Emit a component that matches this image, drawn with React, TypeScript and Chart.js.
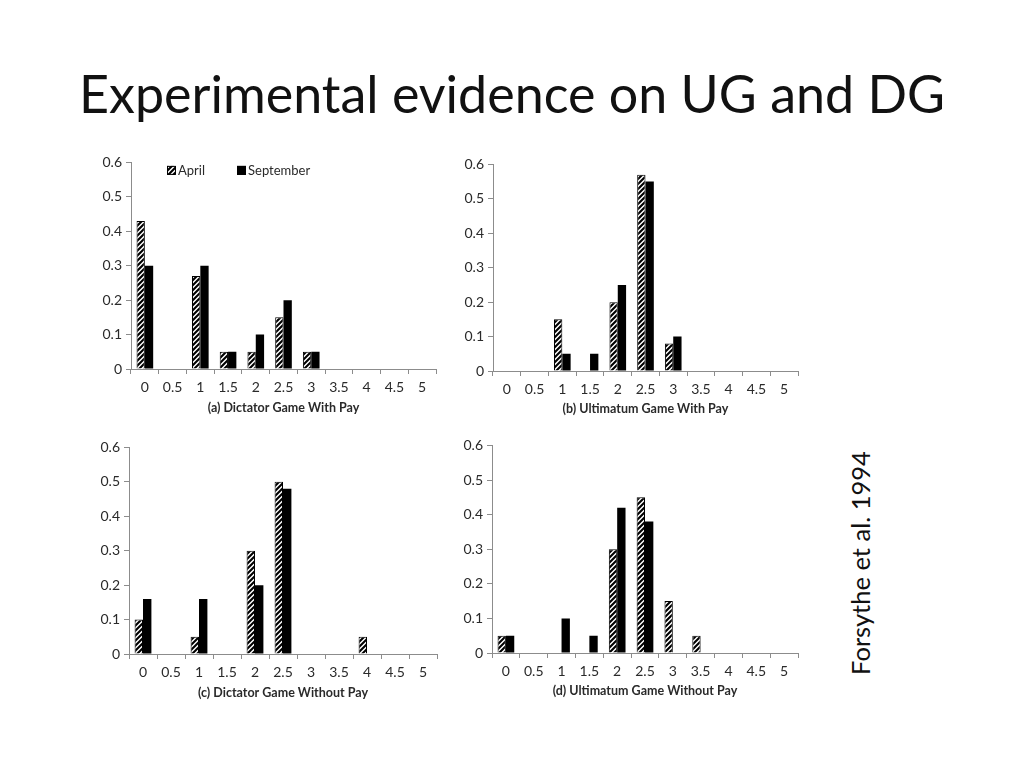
import React, { useEffect, useRef } from "react";
import { Chart, registerables } from "chart.js";

Chart.register(...registerables);

// ---------- data ----------
const categories = ["0", "0.5", "1", "1.5", "2", "2.5", "3", "3.5", "4", "4.5", "5"];
const seriesNames = ["April", "September"];
const yMin = 0;
const yMax = 0.6;
const yStep = 0.1;

const dgPayApril = [0.43, 0, 0.27, 0.05, 0.05, 0.15, 0.05, 0, 0, 0, 0];
const dgPaySeptember = [0.3, 0, 0.3, 0.05, 0.1, 0.2, 0.05, 0, 0, 0, 0];
const ugPayApril = [0, 0, 0.15, 0, 0.2, 0.57, 0.08, 0, 0, 0, 0];
const ugPaySeptember = [0, 0, 0.05, 0.05, 0.25, 0.55, 0.1, 0, 0, 0, 0];
const dgNoPayApril = [0.1, 0, 0.05, 0, 0.3, 0.5, 0, 0, 0.05, 0, 0];
const dgNoPaySeptember = [0.16, 0, 0.16, 0, 0.2, 0.48, 0, 0, 0, 0, 0];
const ugNoPayApril = [0.05, 0, 0, 0, 0.3, 0.45, 0.15, 0.05, 0, 0, 0];
const ugNoPaySeptember = [0.05, 0, 0.1, 0.05, 0.42, 0.38, 0, 0, 0, 0, 0];

const panelTitles = [
  "(a) Dictator Game With Pay",
  "(b) Ultimatum Game With Pay",
  "(c) Dictator Game Without Pay",
  "(d) Ultimatum Game Without Pay",
];

const pageTitle = "Experimental evidence on UG and DG";
const sideNote = "Forsythe et al. 1994";

// ---------- helpers ----------
const FONT = "Lato, 'Open Sans', sans-serif";
const TEXT = "#2a2a2a";
const AXIS = "#8c8c8c";

function makeHatch(): CanvasPattern | string {
  const s = 5;
  const c = document.createElement("canvas");
  c.width = s;
  c.height = s;
  const g = c.getContext("2d");
  if (!g) return "#888";
  g.fillStyle = "#ffffff";
  g.fillRect(0, 0, s, s);
  g.strokeStyle = "#000000";
  g.lineWidth = 2.1;
  g.beginPath();
  g.moveTo(-1, s + 1);
  g.lineTo(s + 1, -1);
  g.moveTo(-1, 1);
  g.lineTo(1, -1);
  g.moveTo(s - 1, s + 1);
  g.lineTo(s + 1, s - 1);
  g.stroke();
  const p = g.createPattern(c, "repeat");
  return p || "#888";
}

function legendPlugin(hatch: CanvasPattern | string) {
  return {
    id: "insideLegend",
    afterDraw(chart: any) {
      const { ctx, chartArea } = chart;
      const items = [
        { x: 36, fill: hatch, text: chart.data.datasets[0].label },
        { x: 106, fill: "#000", text: chart.data.datasets[1].label },
      ];
      const cy = chartArea.top + 8;
      ctx.save();
      ctx.font = `13px ${FONT}`;
      ctx.textBaseline = "middle";
      ctx.textAlign = "left";
      items.forEach((it) => {
        const bx = chartArea.left + it.x;
        ctx.fillStyle = it.fill as any;
        ctx.fillRect(bx, cy - 4.5, 9, 9);
        ctx.strokeStyle = "#000";
        ctx.lineWidth = 1;
        ctx.strokeRect(bx + 0.5, cy - 4, 8, 8);
        ctx.fillStyle = TEXT;
        ctx.fillText(it.text, bx + 11, cy + 0.5);
      });
      ctx.restore();
    },
  };
}

type PanelProps = {
  areaLeft: number;
  areaRight: number;
  areaTop: number;
  areaBottom: number;
  titleY: number;
  april: number[];
  september: number[];
  title: string;
  legend?: boolean;
};

const Y_AXIS_W = 43;
const PAD_TOP = 10;
const PAD_RIGHT = 4;

function Panel(p: PanelProps) {
  const ref = useRef<HTMLCanvasElement>(null);
  const left = p.areaLeft - Y_AXIS_W;
  const top = p.areaTop - PAD_TOP;
  const width = p.areaRight + PAD_RIGHT - left;
  const bottom = p.titleY + 12;
  const height = bottom - top;
  const xAxisH = bottom - p.areaBottom;

  useEffect(() => {
    if (!ref.current) return;
    const hatch = makeHatch();
    const chart = new Chart(ref.current, {
      type: "bar",
      data: {
        labels: categories,
        datasets: [
          {
            label: seriesNames[0],
            data: p.april,
            backgroundColor: hatch as any,
            borderColor: "#000",
            borderWidth: (c: any) => (c.raw ? 1 : 0),
          },
          {
            label: seriesNames[1],
            data: p.september,
            backgroundColor: "#000",
            borderColor: "#000",
            borderWidth: 0,
          },
        ],
      },
      options: {
        animation: false,
        responsive: false,
        maintainAspectRatio: false,
        layout: { padding: { left: 0, right: PAD_RIGHT, top: PAD_TOP, bottom: 0 } },
        datasets: { bar: { categoryPercentage: 0.6, barPercentage: 1 } },
        plugins: { legend: { display: false }, tooltip: { enabled: false } },
        scales: {
          x: {
            offset: true,
            grid: {
              display: true,
              drawOnChartArea: false,
              offset: true,
              tickLength: 5,
              color: AXIS,
            },
            border: { color: AXIS, width: 1 },
            ticks: {
              color: TEXT,
              font: { family: FONT, size: 14 },
              padding: 5,
              maxRotation: 0,
              autoSkip: false,
            },
            title: {
              display: true,
              text: p.title,
              color: TEXT,
              font: { family: FONT, size: 12.5, weight: "bold" },
              padding: { top: 0, bottom: 5 },
            },
            afterFit: (s: any) => {
              s.height = xAxisH;
            },
          },
          y: {
            min: yMin,
            max: yMax,
            grid: { display: true, drawOnChartArea: false, tickLength: 5, color: AXIS },
            border: { color: AXIS, width: 1 },
            ticks: {
              stepSize: yStep,
              color: TEXT,
              font: { family: FONT, size: 14 },
              padding: 4,
            },
            afterFit: (s: any) => {
              s.width = Y_AXIS_W;
            },
          },
        },
      } as any,
      plugins: p.legend ? [legendPlugin(hatch) as any] : [],
    });
    return () => chart.destroy();
  }, []);

  return (
    <canvas
      ref={ref}
      width={width}
      height={height}
      style={{ position: "absolute", left, top, width, height }}
    />
  );
}

export default function App() {
  useEffect(() => {
    document.body.style.margin = "0";
  }, []);
  return (
    <div
      style={{
        position: "absolute",
        left: 0,
        top: 0,
        width: 1024,
        height: 768,
        background: "#fff",
        overflow: "hidden",
        fontFamily: FONT,
      }}
    >
      <div
        style={{
          position: "absolute",
          left: 0,
          width: 1024,
          top: 63,
          textAlign: "center",
          fontSize: 52,
          lineHeight: "60px",
          color: "#111",
          whiteSpace: "nowrap",
        }}
      >
        {pageTitle}
      </div>
      <div
        style={{
          position: "absolute",
          left: 860,
          top: 563,
          transform: "translate(-50%, -50%) rotate(-90deg)",
          fontSize: 25.5,
          lineHeight: "30px",
          color: "#111",
          whiteSpace: "nowrap",
        }}
      >
        {sideNote}
      </div>
      <Panel
        areaLeft={131}
        areaRight={436}
        areaTop={160}
        areaBottom={369}
        titleY={408}
        april={dgPayApril}
        september={dgPaySeptember}
        title={panelTitles[0]}
        legend
      />
      <Panel
        areaLeft={493}
        areaRight={798}
        areaTop={162}
        areaBottom={371}
        titleY={409}
        april={ugPayApril}
        september={ugPaySeptember}
        title={panelTitles[1]}
      />
      <Panel
        areaLeft={129}
        areaRight={437}
        areaTop={445}
        areaBottom={654}
        titleY={693}
        april={dgNoPayApril}
        september={dgNoPaySeptember}
        title={panelTitles[2]}
      />
      <Panel
        areaLeft={492}
        areaRight={798}
        areaTop={443}
        areaBottom={653}
        titleY={691}
        april={ugNoPayApril}
        september={ugNoPaySeptember}
        title={panelTitles[3]}
      />
    </div>
  );
}
